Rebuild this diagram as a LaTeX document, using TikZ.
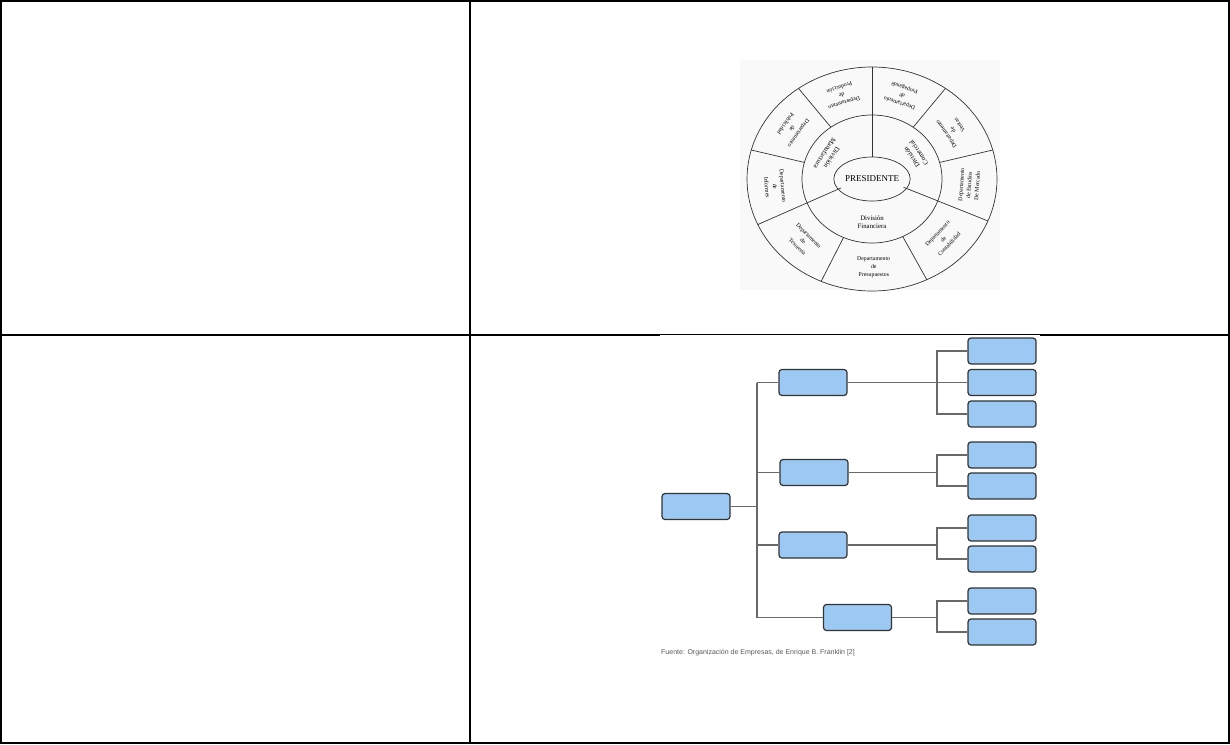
\documentclass[tikz,border=0pt]{standalone}
\usepackage{fontspec}
\setmainfont{Liberation Serif}
\newfontfamily\arialfont{Liberation Sans}
\usetikzlibrary{shapes.geometric}
\definecolor{cajaazul}{RGB}{155,201,243}
\definecolor{lineagris}{RGB}{105,105,105}
\tikzset{
  caja/.style={draw=black!80, fill=cajaazul, rounded corners=3pt, line width=1.2pt,
    minimum width=68pt, minimum height=26pt, inner sep=0pt},
  rama/.style={draw=lineagris, line width=1.2pt},
  etiq/.style={font=\fontsize{5.8}{8}\selectfont, align=center, inner sep=0pt},
}
\begin{document}
\begin{tikzpicture}[x=1pt,y=-1pt]
    \useasboundingbox (0,0) rectangle (1230,744);
    \draw[line width=2pt] (1,1) rectangle (1229,743);%表格外框
    \draw[line width=2pt] (470,0) -- (470,744);
    \draw[line width=2pt] (0,335) -- (1230,335);
    \fill[white] (660,335.2) rectangle (1040,337);%树形图图片盖住一半横线
    \fill[gray!5] (740,60) rectangle (1000,290);%圆形组织图的底色
    \begin{scope}[shift={(872,179)}, yscale=-1, line width=0.7pt, draw=black!80]
        \draw (0,0) ellipse [x radius=125, y radius=112];
        \draw (0,0) ellipse [x radius=70, y radius=64];
        \node[draw, ellipse, minimum width=68pt, minimum height=44pt, inner sep=0pt,
            font=\fontsize{9}{10}\selectfont] (pres) at (0,0) {PRESIDENTE};
        \foreach \ang in {90,204,338}
            \draw (\ang:34 and 22) -- (\ang:125 and 112);%贯穿两环的分隔线
        \foreach \ang in {126,165,246,296,15,54}
            \draw (\ang:70 and 64) -- (\ang:125 and 112);
        \foreach \ang/\txt in {
            108/{Departamento\\de\\Producción},
            145/{Departamento\\de\\Publicidad},
            185/{Departamento\\de\\Informes},
            225/{Departamento\\de\\Tesorería},
            271/{Departamento\\de\\Presupuestos},
            317/{Departamento\\de\\Contabilidad},
            356/{Departamento\\de Estudios\\De Mercado},
            34/{Departamento\\de\\Ventas},
            72/{Departamento\\de\\Propaganda}}
            \node[etiq, rotate=\ang+90] at (\ang:97.5 and 88) {\txt};
        \foreach \ang/\txt in {
            147/{División\\Manufactura},
            270/{División\\Financiera},
            34/{División\\Comercial}}
            \node[etiq, font=\fontsize{6.8}{8.5}\selectfont, rotate=\ang+90] at (\ang:52 and 43) {\txt};
    \end{scope}
    \node[caja] (raiz) at (696,506.5) {};
    \node[caja] (div1) at (813,382.5) {};
    \node[caja] (div2) at (814,472.5) {};
    \node[caja] (div3) at (813,545) {};
    \node[caja] (div4) at (857.5,617.5) {};
    \foreach \n/\y in {1/351,2/382.5,3/414,4/455,5/486,6/528,7/559,8/601,9/632}
        \node[caja] (dep\n) at (1002,\y) {};
    \coordinate (tronco) at (757,382.5);
    \coordinate (tronco2) at (757,617.5);
    \coordinate (llave) at (937,0);
    \draw[rama] (tronco) -- (tronco2);%主干
    \draw[rama] (raiz) -- (raiz -| tronco);
    \foreach \i in {1,...,4}
        \draw[rama] (div\i.west -| tronco) -- (div\i);
    \foreach \i in {1,...,4}
        \draw[rama] (div\i) -- (div\i -| llave);
    \draw[rama] (dep1) -- (dep1 -| llave) -- (dep3 -| llave) -- (dep3);%右侧括线
    \draw[rama] (dep2) -- (dep2 -| llave);
    \draw[rama] (dep4) -- (dep4 -| llave) -- (dep5 -| llave) -- (dep5);
    \draw[rama] (dep6) -- (dep6 -| llave) -- (dep7 -| llave) -- (dep7);
    \draw[rama] (dep8) -- (dep8 -| llave) -- (dep9 -| llave) -- (dep9);
    \node[anchor=west, font=\arialfont\fontsize{7}{8}\selectfont, text=black!65, inner sep=0pt]
        (fuente) at (661,653) {Fuente: Organización de Empresas, de Enrique B. Franklin [2]};
\end{tikzpicture}
\end{document}
